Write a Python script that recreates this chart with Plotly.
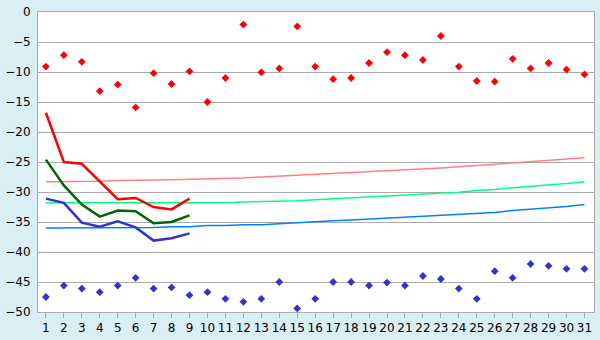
import plotly.graph_objects as go

days = list(range(1, 32))

record_max = [-9.1, -7.2, -8.3, -13.2, -12.1, -15.9, -10.2, -12.0, -9.9, -15.0,
              -11.0, -2.1, -10.05, -9.4, -2.4, -9.1, -11.2, -11.0, -8.5, -6.7,
              -7.2, -8.0, -4.0, -9.1, -11.5, -11.6, -7.8, -9.4, -8.5, -9.6, -10.4]
record_min = [-47.5, -45.6, -46.1, -46.7, -45.6, -44.3, -46.1, -45.9, -47.2, -46.7,
              -47.8, -48.3, -47.8, -45.0, -49.4, -47.8, -45.0, -45.0, -45.6, -45.1,
              -45.6, -44.0, -44.5, -46.1, -47.8, -43.2, -44.3, -42.0, -42.3, -42.8, -42.8]

normal_max = [-28.3, -28.3, -28.3, -28.2, -28.1, -28.1, -28.0, -27.95, -27.9, -27.8,
              -27.75, -27.65, -27.5, -27.35, -27.2, -27.1, -27.0, -26.85, -26.7, -26.5,
              -26.35, -26.2, -26.0, -25.8, -25.6, -25.4, -25.2, -25.0, -24.8, -24.55, -24.3]
normal_mean = [-31.8, -31.8, -31.8, -31.9, -31.9, -31.9, -31.9, -31.9, -31.85, -31.8,
               -31.8, -31.65, -31.6, -31.6, -31.45, -31.3, -31.15, -31.0, -30.9, -30.75,
               -30.55, -30.4, -30.2, -30.05, -29.75, -29.6, -29.3, -29.1, -28.85, -28.6, -28.3]
normal_min = [-36.0, -36.0, -36.0, -35.9, -35.9, -35.9, -35.9, -35.8, -35.8, -35.6,
              -35.6, -35.45, -35.45, -35.3, -35.1, -35.0, -34.8, -34.65, -34.5, -34.3,
              -34.2, -34.0, -33.85, -33.7, -33.55, -33.4, -33.1, -32.9, -32.7, -32.4, -32.1]

obs_days = list(range(1, 10))
obs_max = [-16.8, -25.0, -25.3, -28.3, -31.2, -31.0, -32.5, -32.9, -31.1]
obs_mean = [-24.6, -28.9, -32.1, -34.1, -33.1, -33.2, -35.2, -35.0, -33.9]
obs_min = [-31.1, -31.8, -35.1, -35.8, -34.9, -35.9, -38.1, -37.7, -36.9]

y_ticks = [0, -5, -10, -15, -20, -25, -30, -35, -40, -45, -50]
y_labels = ["0", "\u22125", "\u221210", "\u221215", "\u221220", "\u221225",
            "\u221230", "\u221235", "\u221240", "\u221245", "\u221250"]

fig = go.Figure()

fig.add_trace(go.Scatter(x=days, y=normal_max, mode="lines",
                         line=dict(color="#FF8080", width=1.5), hoverinfo="skip"))
fig.add_trace(go.Scatter(x=days, y=normal_mean, mode="lines",
                         line=dict(color="#00FF80", width=1.5), hoverinfo="skip"))
fig.add_trace(go.Scatter(x=days, y=normal_min, mode="lines",
                         line=dict(color="#0080FF", width=1.5), hoverinfo="skip"))

fig.add_trace(go.Scatter(x=obs_days, y=obs_max, mode="lines",
                         line=dict(color="#FF0000", width=2.5)))
fig.add_trace(go.Scatter(x=obs_days, y=obs_mean, mode="lines",
                         line=dict(color="#006600", width=2.5)))
fig.add_trace(go.Scatter(x=obs_days, y=obs_min, mode="lines",
                         line=dict(color="#3333CC", width=2.5)))

fig.add_trace(go.Scatter(x=days, y=record_max, mode="markers",
                         marker=dict(symbol="diamond", size=6, color="#FF0000")))
fig.add_trace(go.Scatter(x=days, y=record_min, mode="markers",
                         marker=dict(symbol="diamond", size=6, color="#3333CC")))

fig.update_layout(
    width=600, height=340,
    margin=dict(l=27, r=5, t=5, b=20),
    paper_bgcolor="#D9EFF5",
    plot_bgcolor="#FFFFFF",
    showlegend=False,
    font=dict(family="DejaVu Sans", size=12, color="#000000"),
)
fig.update_xaxes(
    range=[0.56, 31.53], tickmode="array", tickvals=days,
    ticktext=[str(d) for d in days],
    showgrid=False, zeroline=False,
    showline=True, linecolor="#AAAAAA", linewidth=1, mirror=True,
    ticks="outside", ticklen=5, tickcolor="#AAAAAA",
    tickfont=dict(size=12), ticklabeloverflow="allow",
)
fig.update_yaxes(
    range=[-50, 0.0001], tickmode="array", tickvals=y_ticks, ticktext=y_labels,
    showgrid=True, gridcolor="#AAAAAA", gridwidth=1, zeroline=False,
    showline=True, linecolor="#AAAAAA", linewidth=1, mirror=True,
    ticks="", ticklabelstandoff=4,
    tickfont=dict(size=12), ticklabeloverflow="allow",
)

fig.write_html("out.html")
